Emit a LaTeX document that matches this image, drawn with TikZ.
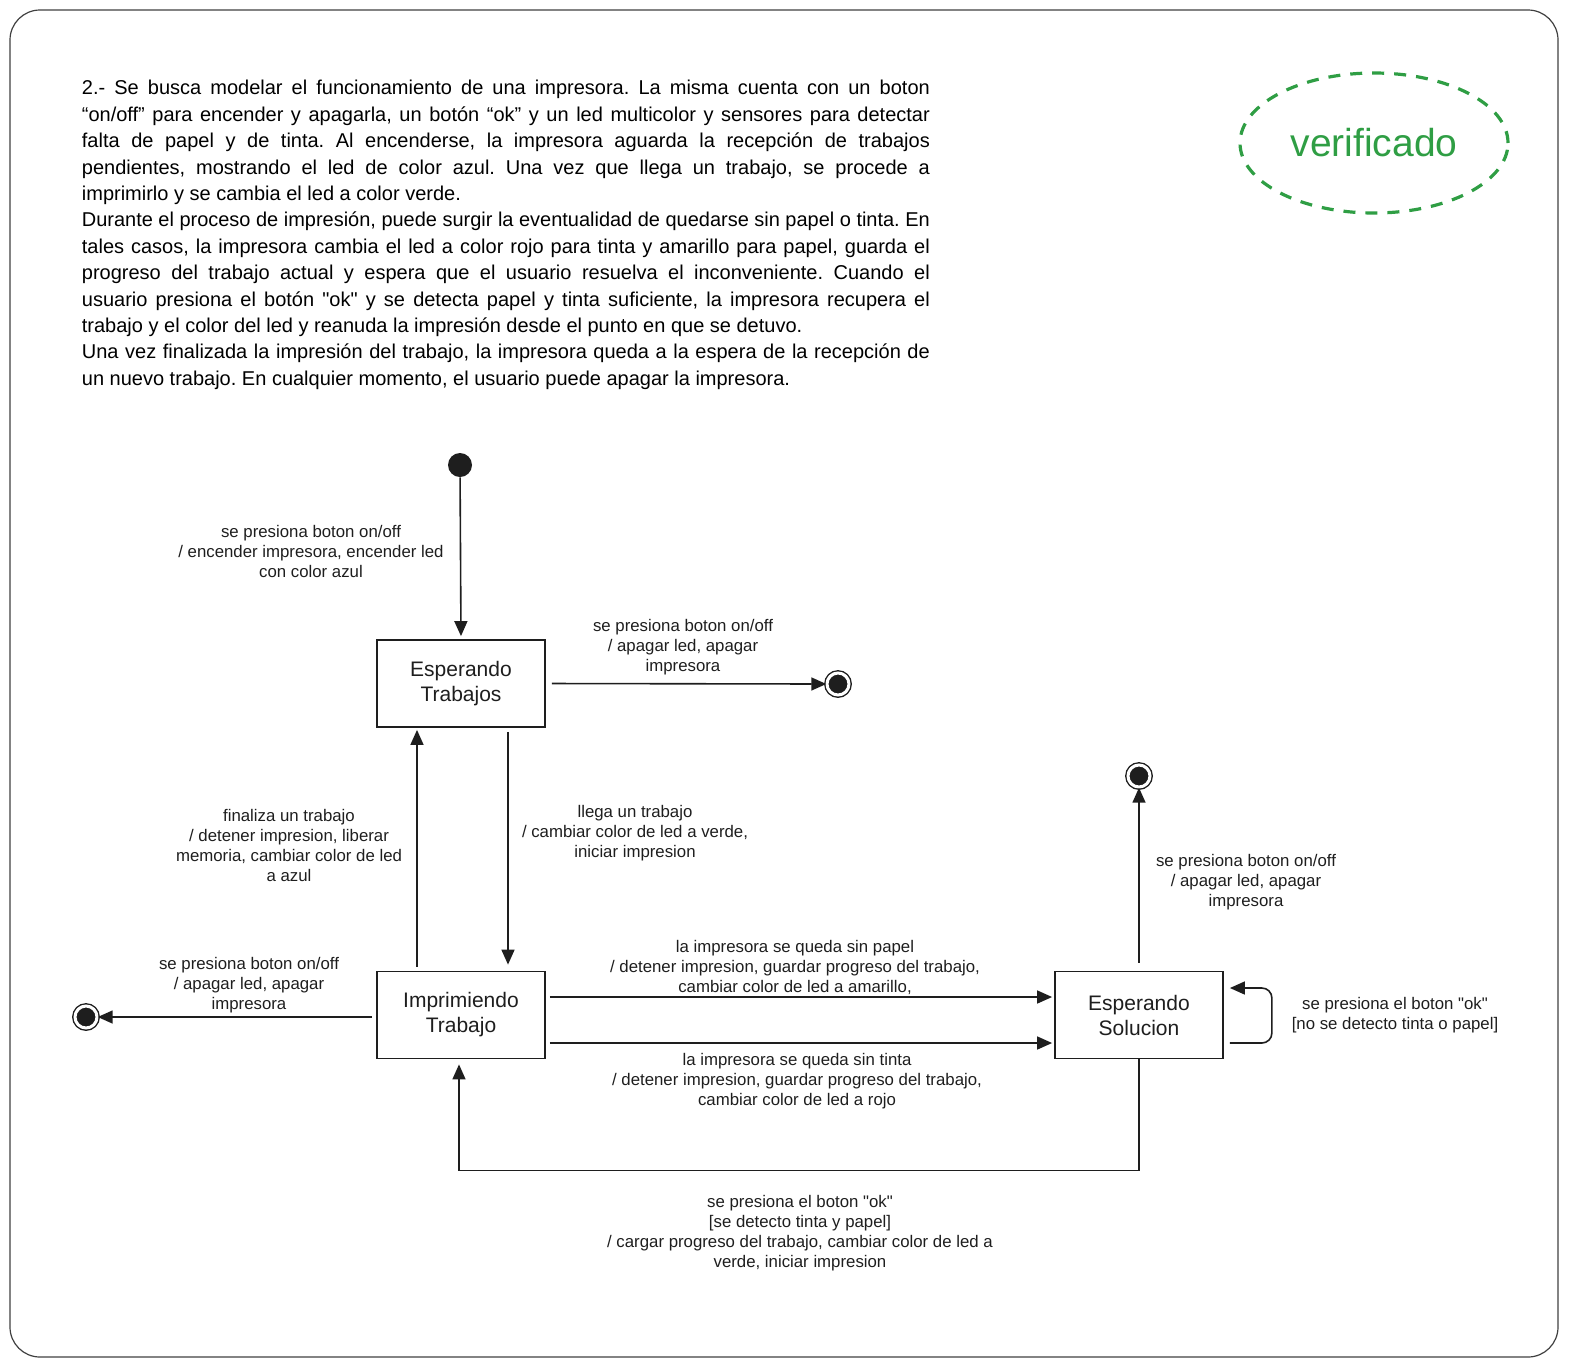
\documentclass[tikz,border=0pt]{standalone}
\usepackage{fontspec}
\usepackage{graphicx}
\setmainfont{Liberation Sans}
\newfontfamily\nqfont{Liberation Sans}
\newcommand\sq{{\nqfont"}}
\usetikzlibrary{arrows.meta,shapes.geometric}
\definecolor{ink}{HTML}{1E1E1E}
\definecolor{vgreen}{HTML}{2F9E44}
\newsavebox\linebx
\newcommand\jline[1]{\sbox\linebx{#1}\ifdim\wd\linebx>424pt \resizebox{424pt}{\height}{\usebox\linebx}\else\makebox[424pt][s]{#1}\fi\par}
\newcommand\lline[1]{\sbox\linebx{#1}\ifdim\wd\linebx>424pt \resizebox{424pt}{\height}{\usebox\linebx}\else\usebox\linebx\fi\par}
\begin{document}
\begin{tikzpicture}[x=0.5pt,y=-0.5pt]
\tikzset{
  statebox/.style={draw=ink, line width=0.9pt, minimum width=84pt, minimum height=43.5pt, inner sep=0pt, align=center, font=\fontsize{10.5}{12.5}\selectfont, text=ink, fill=white},
  lbl/.style={align=center, font=\fontsize{8.4}{10}\selectfont, inner sep=0pt, text=ink},
  arr/.style={draw=ink, line width=0.8pt, -{Triangle[length=7.5pt,width=6.5pt]}},
  initdot/.style={circle, fill=ink, minimum size=12pt, inner sep=0pt},
  finalst/.style={circle, fill=ink, draw=ink, line width=0.7pt, double=white, double distance=1.5pt, minimum size=11pt, inner sep=0pt}
}
\useasboundingbox (0,0) rectangle (1570,1367);
\draw[black!75, line width=0.6pt, rounded corners=15pt] (10,10) rectangle (1558,1357);

% problem statement
\node[anchor=north west, inner sep=0pt] (txt) at (81.5,80) {\parbox{424pt}{\fontsize{10}{13.2}\selectfont\frenchspacing\setlength\parindent{0pt}\setlength\parskip{0pt}%
\jline{2.- Se busca modelar el funcionamiento de una impresora. La misma cuenta con un boton}
\jline{“on/off” para encender y apagarla, un botón “ok” y un led multicolor y sensores para detectar}
\jline{falta de papel y de tinta. Al encenderse, la impresora aguarda la recepción de trabajos}
\jline{pendientes, mostrando el led de color azul. Una vez que llega un trabajo, se procede a}
\lline{imprimirlo y se cambia el led a color verde.}
\jline{Durante el proceso de impresión, puede surgir la eventualidad de quedarse sin papel o tinta. En}
\jline{tales casos, la impresora cambia el led a color rojo para tinta y amarillo para papel, guarda el}
\jline{progreso del trabajo actual y espera que el usuario resuelva el inconveniente. Cuando el}
\jline{usuario presiona el botón \sq ok\sq{} y se detecta papel y tinta suficiente, la impresora recupera el}
\lline{trabajo y el color del led y reanuda la impresión desde el punto en que se detuvo.}
\jline{Una vez finalizada la impresión del trabajo, la impresora queda a la espera de la recepción de}
\lline{un nuevo trabajo. En cualquier momento, el usuario puede apagar la impresora.}}};

% verificado stamp
\node[ellipse, draw=vgreen, line width=1.6pt, dash pattern=on 6pt off 5pt, minimum width=134pt, minimum height=70pt, text=vgreen, font=\fontsize{19.5}{22}\selectfont] (ver) at (1374,143) {verificado};

% states
\node[initdot] (init) at (460,465) {};
\node[statebox] (ET) at (461,683.5) {Esperando\\Trabajos};
\node[statebox] (IT) at (461,1015) {Imprimiendo\\Trabajo};
\node[statebox] (ES) at (1139,1015) {Esperando\\Solucion};
\node[finalst] (F1) at (838,684) {};
\node[finalst] (F2) at (86,1017) {};
\node[finalst] (F3) at (1139,776) {};

% transitions
\draw[arr, shorten >=1.5pt] (init) -- (ET.north);
\draw[arr, shorten <=3pt] (ET.east) -- (F1.west);
\draw[arr] ([xshift=23.5pt,yshift=-2pt]ET.south) -- ([xshift=23.5pt,yshift=3pt]IT.north);
\draw[arr] ([xshift=-22pt,yshift=2pt]IT.north) -- ([xshift=-22pt,yshift=-1pt]ET.south);
\draw[arr, shorten <=2pt] ([yshift=-1pt]IT.west) -- (F2.east);
\draw[arr, shorten <=2pt, shorten >=1pt] ([yshift=9pt]IT.east) -- ([yshift=9pt]ES.west);
\draw[arr, shorten <=2pt, shorten >=1pt] ([yshift=-14pt]IT.east) -- ([yshift=-14pt]ES.west);
\draw[arr, shorten <=4pt] (ES.north) -- (F3.south);
\draw[arr] (ES.south) -- ++(0,111) -| ([xshift=-1pt,yshift=-2.5pt]IT.south);
\draw[arr, rounded corners=5pt] ([xshift=3pt,yshift=-14pt]ES.east) -- ++(42,0) -- ++(0,-55) -- ([xshift=3pt,yshift=13.5pt]ES.east);

% labels
\node[lbl] (l1) at (311,551) {se presiona boton on/off\\/ encender impresora, encender led\\con color azul};
\node[lbl] (l2) at (683,647) {se presiona boton on/off\\/ apagar led, apagar\\impresora};
\node[lbl] (l3) at (289,845) {finaliza un trabajo\\/ detener impresion, liberar\\memoria, cambiar color de led\\a azul};
\node[lbl] (l4) at (635,833) {llega un trabajo\\/ cambiar color de led a verde,\\iniciar impresion};
\node[lbl] (l5) at (249,985) {se presiona boton on/off\\/ apagar led, apagar\\impresora};
\node[lbl] (l6) at (795,967) {la impresora se queda sin papel\\/ detener impresion, guardar progreso del trabajo,\\cambiar color de led a amarillo,};
\node[lbl] (l7) at (797,1081) {la impresora se queda sin tinta\\/ detener impresion, guardar progreso del trabajo,\\cambiar color de led a rojo};
\node[lbl] (l8) at (1246,882) {se presiona boton on/off\\/ apagar led, apagar\\impresora};
\node[lbl] (l9) at (1395,1015) {se presiona el boton \sq ok\sq\\{[}no se detecto tinta o papel{]}};
\node[lbl] (l10) at (800,1233) {se presiona el boton \sq ok\sq\\{[}se detecto tinta y papel{]}\\/ cargar progreso del trabajo, cambiar color de led a\\verde, iniciar impresion};
\end{tikzpicture}
\end{document}
